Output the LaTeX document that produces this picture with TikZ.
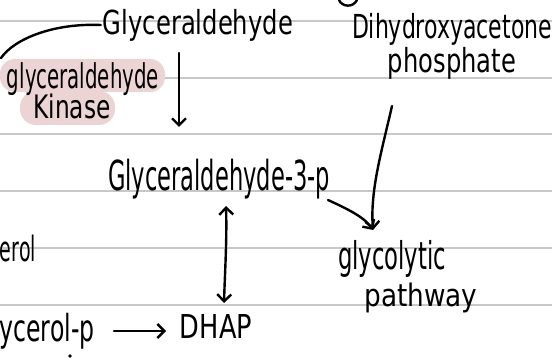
\documentclass[tikz,border=0pt]{standalone}
\usepackage{fontspec}
\setmainfont{DejaVu Sans}
\usetikzlibrary{arrows.meta}
\definecolor{ruling}{HTML}{C8C8C8}
\definecolor{highlight}{HTML}{EDD4D4}
% handwritten-size label: width, total height, text
\newcommand\hw[3]{\resizebox*{#1pt}{#2pt}{#3}}
\begin{document}
\begin{tikzpicture}[x=1pt,y=-1pt,
  ink/.style={line width=2.4pt, line cap=round, line join=round},
  arr/.style={ink, -{Straight Barb[length=7pt,width=14pt,line width=2.4pt]}},
  darr/.style={ink, {Straight Barb[length=7pt,width=14pt,line width=2.4pt]}-{Straight Barb[length=7pt,width=14pt,line width=2.4pt]}},
  txt/.style={inner sep=0pt, font=\fontsize{24}{26}\selectfont},
  ]
\useasboundingbox (0,0) rectangle (552,358);
\fill[white] (0,0) rectangle (552,358);
% ruled paper
\foreach \y in {21,78,134,191,248,305}
  \draw[ruling, line width=1.6pt] (0,\y) -- (552,\y);
% highlighter behind the enzyme name
\fill[highlight, rounded corners=15pt] (0,59) rectangle (165,92);
\fill[highlight, rounded corners=16pt] (20,91) rectangle (115,125);

% labels
\node[txt] (gly)   at (198,25)  {\hw{190}{32}{Glyceraldehyde}};
\node[txt] (enz)   at (83,79)   {\hw{152}{33}{glyceraldehyde}};
\node[txt] (kin)   at (72,106)  {\hw{77}{25}{Kinase}};
\node[txt] (dhy)   at (452,29)  {\hw{200}{32}{Dihydroxyacetone}};
\node[txt] (phos)  at (452,63)  {\hw{128}{32}{phosphate}};
\node[txt] (g3p)   at (219,179) {\hw{222}{40}{Glyceraldehyde-3-p}};
\node[txt] (erol)  at (18,248)  {\hw{36}{27}{erol}};
\node[txt] (glyc)  at (392,259) {\hw{108}{37}{glycolytic}};
\node[txt] (path)  at (421,298) {\hw{113}{30}{pathway}};
\node[txt] (g3pl)  at (47,331)  {\hw{95}{36}{ycerol-p}};
\node[txt] (dhap)  at (216,326) {\hw{72}{24}{DHAP}};

% connector end points
\coordinate (hook)   at (1,58);
\coordinate (dnA)    at (179,53);
\coordinate (dnB)    at (179,127);
\coordinate (dhyA)   at (392,106);
\coordinate (meet)   at (373,230);
\coordinate (gA)     at (328,200);
\coordinate (upT)    at (226,206);
\coordinate (upB)    at (224,303);
\coordinate (rA)     at (114,331);
\coordinate (rB)     at (166,331);

% connectors
\draw[ink] ([xshift=-2pt]gly.west) .. controls (55,23) and (15,38) .. (hook);
\draw[arr] (dnA) -- (dnB);
\draw[arr] (dhyA) .. controls (382,150) and (370,190) .. (meet);
\draw[arr] (gA) .. controls (350,210) and (365,218) .. (meet);
\draw[darr] (upT) .. controls (227,240) and (225,270) .. (upB);
\draw[arr] (rA) -- (rB);

% stray ink
\draw[ink] (339,0) .. controls (342,7) and (353,8) .. (357,0);
\fill (70,356) circle (1.8);
\end{tikzpicture}
\end{document}
